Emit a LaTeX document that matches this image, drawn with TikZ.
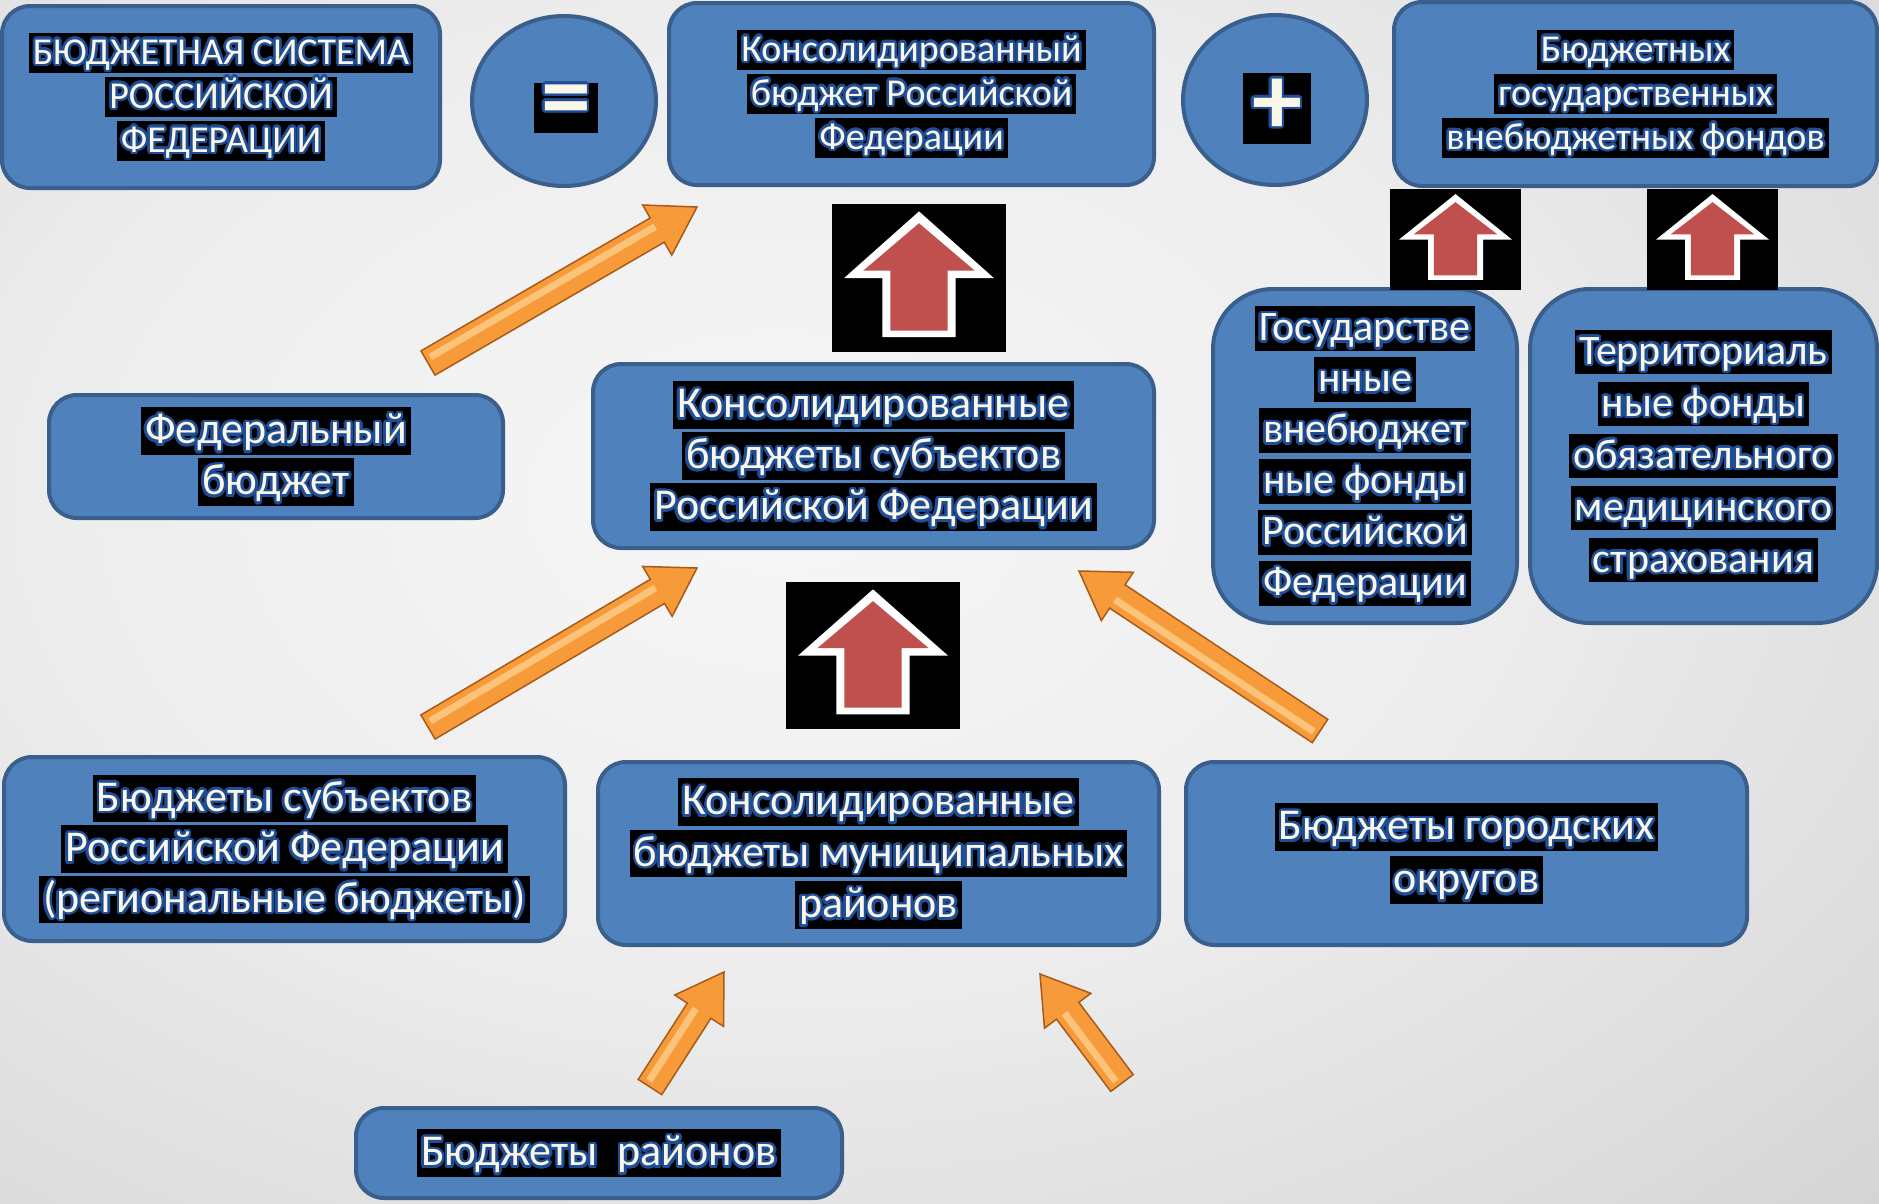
\documentclass[tikz,border=0pt]{standalone}
\usepackage{fontspec}
\setmainfont{Carlito}
\usepackage[copies]{contour}
\usetikzlibrary{shapes.geometric,calc}
\definecolor{boxfill}{HTML}{4F81BD}
\definecolor{boxline}{HTML}{3A5F8C}
\definecolor{txt}{HTML}{FBF7E8}
\definecolor{outl}{HTML}{1F4E96}
\definecolor{orA}{HTML}{F79A3A}
\definecolor{orD}{HTML}{A85A18}
\definecolor{orL}{HTML}{FCC37A}
\definecolor{redA}{HTML}{C0504D}
\definecolor{bg0}{HTML}{F7F7F7}
\definecolor{bg1}{HTML}{EDEDED}
\definecolor{bg2}{HTML}{D6D6D6}
\definecolor{bg3}{HTML}{B2B2B2}
\definecolor{bg4}{HTML}{969696}
\pgfdeclareradialshading{bgshade}{\pgfpoint{0bp}{0bp}}{color(0bp)=(bg0); color(12bp)=(bg1); color(25bp)=(bg2); color(38bp)=(bg3); color(50bp)=(bg4)}
\contourlength{2.5pt}
\contournumber{20}
\setlength{\fboxsep}{0pt}
\newcommand\hl[1]{\colorbox{black}{\hspace{4pt}\rule[-0.24em]{0pt}{1.07em}\contour{outl}{#1}\hspace{4pt}}}
\newcommand\redicon[4]{%
 \begin{scope}[shift={(#1,#2)}, x=#3pt, y=-#4pt]
  \fill[black] (0,0) rectangle (1,1);
  \fill[white] (0.5,0.05) -- (0.93,0.5) -- (0.71,0.5) -- (0.71,0.9) -- (0.29,0.9) -- (0.29,0.5) -- (0.07,0.5) -- cycle;
  \fill[redA] (0.5,0.13) -- (0.82,0.45) -- (0.665,0.45) -- (0.665,0.855) -- (0.335,0.855) -- (0.335,0.45) -- (0.18,0.45) -- cycle;
 \end{scope}}
\newcommand\orarrow[3]{%
 \coordinate (#1h) at ($(#3)!46pt!(#2)$);
 \filldraw[orarr] ($(#2)!14pt!90:(#3)$) -- ($(#1h)!14pt!-90:(#2)$) -- ($(#1h)!29pt!-90:(#2)$) -- (#3) -- ($(#1h)!29pt!90:(#2)$) -- ($(#1h)!14pt!90:(#2)$) -- ($(#2)!14pt!-90:(#3)$) -- cycle;
 \draw[orL, line width=7pt, shorten <=5pt] ($(#2)!4pt!90:(#3)$) -- ($(#1h)!4pt!-90:(#2)$);
}
\tikzset{
 bx/.style={draw=boxline, line width=4pt, fill=boxfill, rounded corners=28pt, inner sep=0pt, align=center, text=txt},
 ell/.style={ellipse, draw=boxline, line width=4pt, fill=boxfill, minimum width=184pt, minimum height=170pt, inner sep=0pt},
 sym/.style={fill=black, inner sep=0pt, text=txt, font=\fontsize{100}{100}\selectfont\bfseries},
 orarr/.style={fill=orA, draw=orD, line width=1.5pt, line join=miter},
}
\begin{document}
\begin{tikzpicture}[x=1pt,y=-1pt]
\useasboundingbox (0,0) rectangle (1879,1203);
\begin{scope}
\clip (0,0) rectangle (1879,1203);
\shade[shading=bgshade] (-720,-500) rectangle (2280,1500);
\end{scope}
% boxes
\node[bx, minimum width=438pt, minimum height=182pt, font=\fontsize{38}{44}\selectfont] (sys) at (221,97)
 {\hl{БЮДЖЕТНАЯ СИСТЕМА}\\\hl{РОССИЙСКОЙ}\\\hl{ФЕДЕРАЦИИ}};
\node[ell] (eqe) at (564,101) {};
\node[sym, minimum width=64pt, minimum height=50pt] (eq) at (566,108) {\contour{outl}{=}};
\node[bx, minimum width=485pt, minimum height=182pt, font=\fontsize{38}{44}\selectfont] (kb) at (911.5,94)
 {\hl{Консолидированный}\\\hl{бюджет Российской}\\\hl{Федерации}};
\node[ell] (pluse) at (1275,100) {};
\node[sym, minimum width=68pt, minimum height=71pt] (plus) at (1277,108) {\contour{outl}{+}};
\node[bx, minimum width=483pt, minimum height=184pt, font=\fontsize{38}{44}\selectfont] (gvf) at (1635.5,94)
 {\hl{Бюджетных}\\\hl{государственных}\\\hl{внебюджетных фондов}};
\node[bx, rounded corners=60pt, minimum width=304pt, minimum height=334pt, font=\fontsize{42}{51}\selectfont] (gf) at (1365,456)
 {\hl{Государстве}\\\hl{нные}\\\hl{внебюджет}\\\hl{ные фонды}\\\hl{Российской}\\\hl{Федерации}};
\node[bx, rounded corners=60pt, minimum width=347pt, minimum height=334pt, font=\fontsize{42}{52}\selectfont] (tf) at (1703.5,456)
 {\hl{Территориаль}\\\hl{ные фонды}\\\hl{обязательного}\\\hl{медицинского}\\\hl{страхования}};
\node[bx, minimum width=454pt, minimum height=123pt, font=\fontsize{44}{51}\selectfont] (fb) at (276,456.5)
 {\hl{Федеральный}\\\hl{бюджет}};
\node[bx, minimum width=561pt, minimum height=184pt, font=\fontsize{44}{51}\selectfont] (ks) at (873.5,456)
 {\hl{Консолидированные}\\\hl{бюджеты субъектов}\\\hl{Российской Федерации}};
\node[bx, minimum width=561pt, minimum height=184pt, font=\fontsize{44}{50.5}\selectfont] (bs) at (284.5,849)
 {\hl{Бюджеты субъектов}\\\hl{Российской Федерации}\\\hl{(региональные бюджеты)}};
\node[bx, minimum width=561pt, minimum height=183pt, font=\fontsize{44}{51.5}\selectfont] (km) at (878.5,853.5)
 {\hl{Консолидированные}\\\hl{бюджеты муниципальных}\\\hl{районов}};
\node[bx, minimum width=561pt, minimum height=183pt, font=\fontsize{44}{53}\selectfont] (go) at (1466.5,853.5)
 {\hl{Бюджеты городских}\\\hl{округов}};
\node[bx, minimum width=486pt, minimum height=90pt, font=\fontsize{44}{51}\selectfont] (br) at (599,1153)
 {\hl{Бюджеты\ \ районов}};
% red up icons
\redicon{832}{204}{174}{148}
\redicon{1390}{189}{131}{101}
\redicon{1647}{189}{131}{101}
\redicon{786}{582}{174}{147}
% orange arrows
\coordinate (a1t) at (428,363); \coordinate (a1s) at (697,207);
\coordinate (a2t) at (428,727); \coordinate (a2s) at (697,568);
\coordinate (a3t) at (1320,731); \coordinate (a3s) at (1079,571);
\coordinate (a4t) at (650,1087); \coordinate (a4s) at (724,972);
\coordinate (a5t) at (1122,1083); \coordinate (a5s) at (1040,974);
\orarrow{a1}{a1t}{a1s}
\orarrow{a2}{a2t}{a2s}
\orarrow{a3}{a3t}{a3s}
\orarrow{a4}{a4t}{a4s}
\orarrow{a5}{a5t}{a5s}
\end{tikzpicture}
\end{document}
